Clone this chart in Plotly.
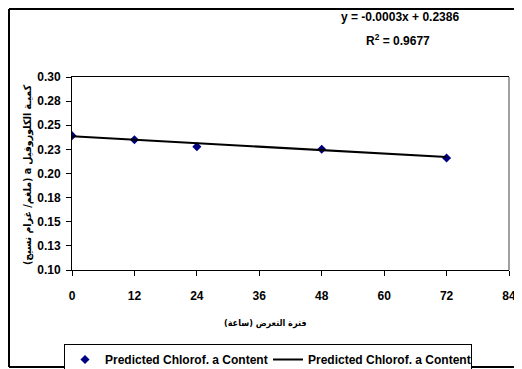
import plotly.graph_objects as go

# exposure period (hours) and predicted chlorophyll a content
hours = [0, 12, 24, 48, 72]
chlorophyll = [0.2392, 0.2350, 0.2278, 0.2251, 0.2161]

# trendline reported on the chart
slope = -0.0003
intercept = 0.2386
r_squared = 0.9677
trend_x = [0, 72]

y_tickvals = [0.10, 0.125, 0.15, 0.175, 0.20, 0.225, 0.25, 0.275, 0.30]
y_ticktext = ["0.10", "0.13", "0.15", "0.18", "0.20", "0.23", "0.25", "0.28", "0.30"]
x_tickvals = [0, 12, 24, 36, 48, 60, 72, 84]

FONT = "Liberation Sans, Arial, sans-serif"
AR_FONT = "DejaVu Sans Condensed, DejaVu Sans, sans-serif"
RLE, PDF = "\u202b", "\u202c"

# the page body adds an 8px offset; positions below are in page pixels
OFF = 8
W, H = 514, 361
L, R, T, B = 64, 13, 69, 99
PW, PH = W - L - R, H - T - B


def px_x(p):
    return (p - OFF - L) / PW


def px_y(p):
    return (H - B - (p - OFF)) / PH


fig = go.Figure()

fig.add_trace(
    go.Scatter(
        x=hours,
        y=chlorophyll,
        mode="markers",
        name="<b>Predicted Chlorof. a Content</b>",
        marker=dict(symbol="diamond", size=7, color="#000080"),
    )
)

fig.add_trace(
    go.Scatter(
        x=trend_x,
        y=[slope * x + intercept for x in trend_x],
        mode="lines",
        name="<b>Predicted Chlorof. a Content</b>",
        line=dict(color="black", width=2),
    )
)

fig.update_xaxes(
    range=[0, 84],
    tickvals=x_tickvals,
    ticktext=[f"<b>{v}</b>" for v in x_tickvals],
    showgrid=False,
    zeroline=False,
    showline=True,
    linecolor="black",
    linewidth=1,
    mirror=True,
    ticks="outside",
    ticklen=5,
    tickcolor="black",
    ticklabelstandoff=10,
    tickfont=dict(family=FONT, size=12, color="black"),
)
fig.update_yaxes(
    range=[0.10, 0.30],
    tickvals=y_tickvals,
    ticktext=[f"<b>{t}</b>" for t in y_ticktext],
    showgrid=False,
    zeroline=False,
    showline=True,
    linecolor="black",
    linewidth=1,
    ticks="outside",
    ticklen=5,
    tickcolor="black",
    ticklabelstandoff=3,
    tickfont=dict(family=FONT, size=12, color="black"),
)

border = dict(color="black", width=2)
top_y = px_y(9)
bot_y = px_y(367)
shapes = [
    # right side of the plot area
    dict(type="line", x0=1, x1=1, y0=0, y1=1, line=dict(color="#808080", width=1.5)),
    # chart border
    dict(type="line", x0=px_x(9), x1=px_x(540), y0=top_y, y1=top_y, line=border),
    dict(type="line", x0=px_x(9), x1=px_x(540), y0=bot_y, y1=bot_y, line=border),
    dict(type="line", x0=px_x(9), x1=px_x(9), y0=top_y, y1=bot_y, line=border),
]
for s in shapes:
    s.update(xref="paper", yref="paper", layer="above")

annotations = [
    dict(text=f"<b>y = {slope:.4f}x + {intercept:.4f}</b>", x=px_x(400), y=px_y(17),
         font=dict(family=FONT, size=12, color="black")),
    dict(text=f"<b>R<sup>2</sup> = {r_squared:.4f}</b>", x=px_x(398), y=px_y(40),
         font=dict(family=FONT, size=12, color="black")),
    dict(text=f"<b>{RLE}فترة التعرض (ساعة){PDF}</b>", x=px_x(265), y=px_y(323),
         font=dict(family=AR_FONT, size=9, color="black")),
    dict(text=f"<b>{RLE}كميـة الكلوروفيل a (ملغم/ غرام نسيج){PDF}</b>", x=px_x(27), y=px_y(175),
         textangle=-90,
         font=dict(family=AR_FONT, size=10.5, color="black")),
]
for a in annotations:
    a.update(xref="paper", yref="paper", showarrow=False, xanchor="center", yanchor="middle")

fig.update_layout(
    width=W,
    height=H,
    margin=dict(l=L, r=R, t=T, b=B, autoexpand=False),
    paper_bgcolor="white",
    plot_bgcolor="white",
    showlegend=True,
    legend=dict(
        orientation="h",
        x=px_x(64), xanchor="left",
        y=px_y(344), yanchor="top",
        bordercolor="black", borderwidth=1,
        bgcolor="white",
        font=dict(family=FONT, size=12, color="black"),
        itemwidth=30,
        entrywidth=158,
        entrywidthmode="pixels",
        tracegroupgap=0,
    ),
    shapes=shapes,
    annotations=annotations,
)

fig.write_html("out.html")
